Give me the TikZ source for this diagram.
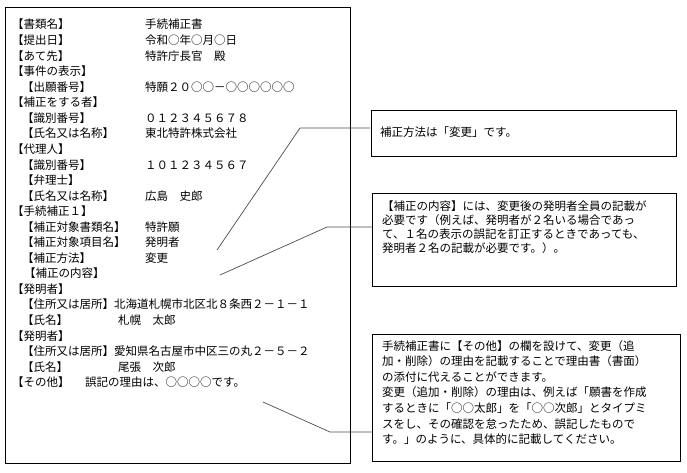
\documentclass[tikz,border=0pt]{standalone}
\usepackage{fontspec}
\setmainfont{Noto Sans CJK JP}
\begin{document}
\begin{tikzpicture}[x=1pt,y=-1pt,
  t/.style={anchor=base west,inner sep=0pt,font=\fontsize{11.5}{14}\selectfont},
  box/.style={draw,line width=0.8pt},
  conn/.style={draw=black!70,line width=0.7pt}]
\useasboundingbox (0,0) rectangle (687,472);
\draw[box] (5,7) rectangle (350,463);
\draw[box] (371,110) rectangle (676,156);
\draw[box] (372,193) rectangle (676,286);
\draw[box] (372,334) rectangle (680,461);
% left column
\foreach \y/\a/\b/\c in {
 28/【書類名】/手続補正書/145,
 44/【提出日】/令和○年○月○日/145,
 60/【あて先】/特許庁長官　殿/145,
 91/\hspace{10pt}【出願番号】/特願２０○○－○○○○○○/145,
 122/\hspace{10pt}【識別番号】/０１２３４５６７８/145,
 137/\hspace{10pt}【氏名又は名称】/東北特許株式会社/145,
 169/\hspace{10pt}【識別番号】/１０１２３４５６７/145,
 200/\hspace{10pt}【氏名又は名称】/広島　史郎/145,
 231/\hspace{10pt}【補正対象書類名】/特許願/145,
 246/\hspace{10pt}【補正対象項目名】/発明者/145,
 262/\hspace{10pt}【補正方法】/変更/145,
 324/\hspace{10pt}【氏名】/札幌　太郎/118,
 371/\hspace{10pt}【氏名】/尾張　次郎/118,
 386/【その他】/誤記の理由は、○○○○です。/85}
 {\node[t] at (12,\y) {\a}; \node[t] at (\c,\y) {\b};}
\foreach \y/\a in {75/【事件の表示】,106/【補正をする者】,153/【代理人】,184/\hspace{10pt}【弁理士】,
 215/【手続補正１】,277/\hspace{12pt}【補正の内容】,293/【発明者】,340/【発明者】}
 {\node[t] at (12,\y) {\a};}
\node[t] at (12,308) {\hspace{10pt}【住所又は居所】北海道札幌市北区北８条西２－１－１};
\node[t] at (12,355) {\hspace{10pt}【住所又は居所】愛知県名古屋市中区三の丸２－５－２};
% callouts
\node[t] (b1) at (380,136) {補正方法は「変更」です。};
\node[t,align=left,anchor=north west] (b2) at (382,201) {【補正の内容】には、変更後の発明者全員の記載が\\必要です（例えば、発明者が２名いる場合であっ\\て、１名の表示の誤記を訂正するときであっても、\\発明者２名の記載が必要です。）。};
\node[t,align=left,anchor=north west,font=\fontsize{11.5}{15.6}\selectfont] (b3) at (382,340) {手続補正書に【その他】の欄を設けて、変更（追\\加・削除）の理由を記載することで理由書（書面）\\の添付に代えることができます。\\変更（追加・削除）の理由は、例えば「願書を作成\\するときに「○○太郎」を「○○次郎」とタイプミ\\スをし、その確認を怠ったため、誤記したもので\\す。」のように、具体的に記載してください。};
\coordinate (p1) at (217,250); \coordinate (q1) at (370,128);
\coordinate (p2) at (220,275); \coordinate (q2) at (372,227);
\coordinate (p3) at (263,402); \coordinate (q3) at (372,432);
\draw[conn] (p1) -- (300,128) -- (q1);
\draw[conn] (p2) -- (327,227) -- (q2);
\draw[conn] (p3) -- (330,432) -- (q3);
\end{tikzpicture}
\end{document}
